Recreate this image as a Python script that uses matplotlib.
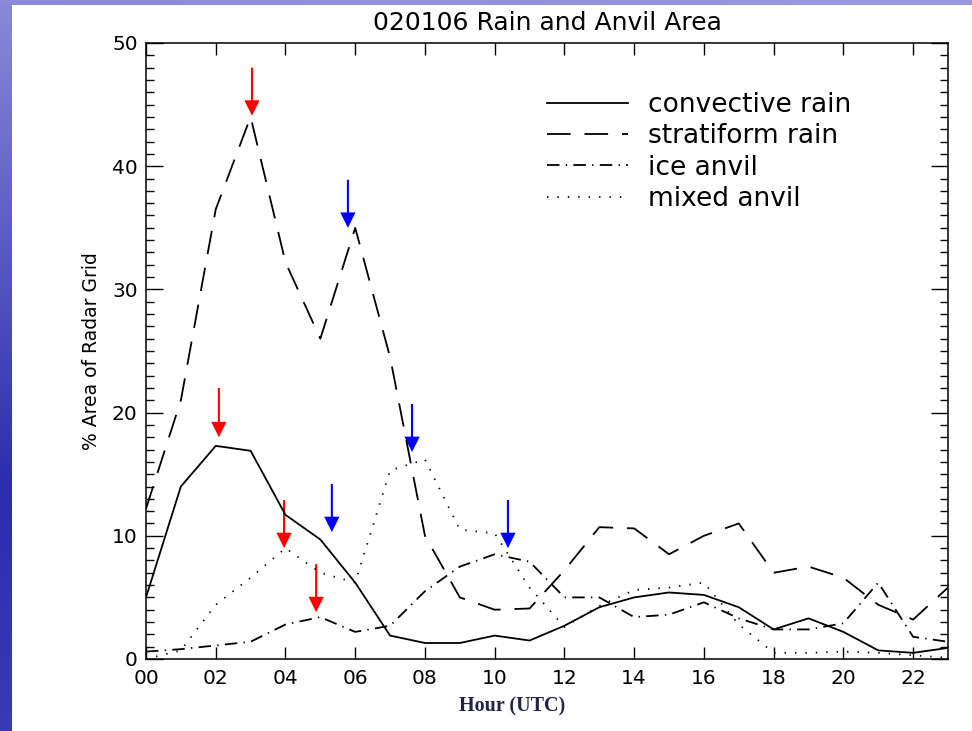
import numpy as np
import matplotlib
matplotlib.use("Agg")
import matplotlib.pyplot as plt
from matplotlib.ticker import MultipleLocator

plt.rcParams['lines.scale_dashes'] = False

# hourly values (UTC hour 00..23), % area of radar grid
hours = np.arange(24)
convective = [5.0, 14.0, 17.3, 16.9, 11.7, 9.7, 6.2, 1.9, 1.3, 1.3, 1.9, 1.5,
              2.7, 4.2, 5.0, 5.4, 5.2, 4.2, 2.4, 3.3, 2.2, 0.7, 0.5, 0.9]
stratiform = [12.2, 21.0, 36.5, 44.0, 32.2, 26.0, 35.0, 24.5, 10.0, 5.0, 4.0, 4.1,
              7.2, 10.7, 10.6, 8.5, 10.0, 11.0, 7.0, 7.5, 6.6, 4.4, 3.2, 5.8]
ice_anvil = [0.6, 0.8, 1.1, 1.4, 2.8, 3.4, 2.2, 2.7, 5.5, 7.5, 8.5, 7.9,
             5.0, 5.0, 3.4, 3.6, 4.6, 3.3, 2.4, 2.4, 2.9, 6.2, 1.8, 1.4]
mixed_anvil = [0.0, 0.7, 4.4, 6.6, 9.0, 7.0, 6.2, 15.3, 16.2, 10.5, 10.2, 5.8,
               2.6, 4.3, 5.6, 5.8, 6.2, 2.8, 0.5, 0.5, 0.6, 0.5, 0.3, 0.1]

# arrows: (hour, tail value, tip value)
red_arrows = [(3.04, 48.0, 44.1), (2.09, 22.0, 18.0), (3.96, 12.9, 9.0), (4.88, 7.7, 3.8)]
blue_arrows = [(5.79, 38.9, 35.0), (5.33, 14.2, 10.3), (7.63, 20.7, 16.8), (10.38, 12.9, 9.0)]

fig = plt.figure(figsize=(9.72, 7.31), dpi=100)
fig.patch.set_facecolor('white')

# slide-style blue border on left and top
grad = np.linspace(0, 1, 256).reshape(-1, 1)
cmap = matplotlib.colors.LinearSegmentedColormap.from_list(
    'slide', ['#8a8ad8', '#5a5ac4', '#2c2cae', '#3a3ab8'])
bx = fig.add_axes([0, 0, 12 / 972, 1])
bx.imshow(grad, aspect='auto', cmap=cmap, extent=[0, 1, 0, 1], origin='upper')
bx.axis('off')
tx = fig.add_axes([0, 1 - 5 / 731, 1, 5 / 731])
tx.imshow(np.linspace(0, 1, 256).reshape(1, -1), aspect='auto',
          cmap=matplotlib.colors.LinearSegmentedColormap.from_list('top', ['#8a8ad8', '#9a9ae0']))
tx.axis('off')

ax = fig.add_axes([146 / 972, 1 - 659 / 731, 802 / 972, 616 / 731])

lw = 1.3
ax.plot(hours, convective, color='black', lw=lw, label='convective rain')
ax.plot(hours, stratiform, color='black', lw=lw, dashes=(17, 10), label='stratiform rain')
ax.plot(hours, ice_anvil, color='black', lw=lw, dashes=(9, 4.5, 1, 4.5), label='ice anvil')
ax.plot(hours, mixed_anvil, color='black', lw=lw, dashes=(1, 6.5), label='mixed anvil')

for x, y0, y1 in red_arrows:
    ax.arrow(x, y0, 0, y1 - y0, width=0.06, head_width=0.44, head_length=1.25,
             length_includes_head=True, color='red', lw=0)
for x, y0, y1 in blue_arrows:
    ax.arrow(x, y0, 0, y1 - y0, width=0.06, head_width=0.44, head_length=1.25,
             length_includes_head=True, color='blue', lw=0)

ax.set_xlim(0, 23)
ax.set_ylim(0, 50)
ax.set_xticks(range(0, 23, 2))
ax.set_xticklabels(['%02d' % h for h in range(0, 23, 2)])
ax.yaxis.set_major_locator(MultipleLocator(10))
ax.yaxis.set_minor_locator(MultipleLocator(1))
ax.tick_params(axis='x', which='major', direction='in', top=True, length=8.6, width=1.0,
               labelsize=14.5, pad=7)
ax.tick_params(axis='y', which='major', direction='in', right=True, length=12, width=1.0,
               labelsize=14.5, pad=6)
ax.tick_params(axis='y', which='minor', direction='in', right=True, length=6, width=1.0)
for s in ax.spines.values():
    s.set_linewidth(1.1)

ax.set_title('020106 Rain and Anvil Area', fontsize=18, pad=9)
ax.set_ylabel('% Area of Radar Grid', fontsize=13.5, labelpad=8)
fig.text(512 / 972, 1 - 706 / 731, 'Hour (UTC)', ha='center', va='center',
         family='Liberation Serif', fontsize=14.5, weight='bold', color='#22224a')

ax.legend(loc='upper left', bbox_to_anchor=(547 / 972, 1 - 92 / 731),
          bbox_transform=fig.transFigure, frameon=False, fontsize=19,
          handlelength=3.07, handletextpad=0.76, labelspacing=0.2,
          borderpad=0, borderaxespad=0)

fig.savefig('out.png', dpi=100, facecolor=fig.get_facecolor())
